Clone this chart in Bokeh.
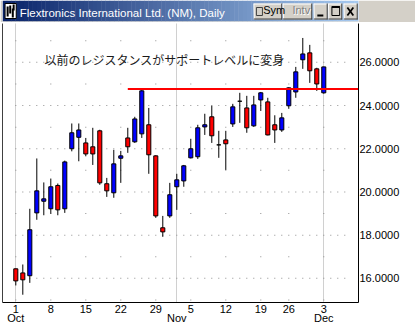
import datetime as dt
import numpy as np
from bokeh.plotting import figure
from bokeh.models import (Range1d, FixedTicker, LinearAxis, Label, Grid,
                          PrintfTickFormatter, ColumnDataSource)
from bokeh.layouts import column
from bokeh.embed import file_html
from bokeh.resources import INLINE
from bokeh.core.properties import value

# ---------------- data ----------------
dates = ["2001-10-01", "2001-10-02", "2001-10-03", "2001-10-04", "2001-10-05",
         "2001-10-08", "2001-10-09", "2001-10-10", "2001-10-11", "2001-10-12",
         "2001-10-15", "2001-10-16", "2001-10-17", "2001-10-18", "2001-10-19",
         "2001-10-22", "2001-10-23", "2001-10-24", "2001-10-25", "2001-10-26",
         "2001-10-29", "2001-10-30", "2001-10-31", "2001-11-01", "2001-11-02",
         "2001-11-05", "2001-11-06", "2001-11-07", "2001-11-08", "2001-11-09",
         "2001-11-12", "2001-11-13", "2001-11-14", "2001-11-15", "2001-11-16",
         "2001-11-19", "2001-11-20", "2001-11-21", "2001-11-23",
         "2001-11-26", "2001-11-27", "2001-11-28", "2001-11-29", "2001-11-30",
         "2001-12-03"]
opens = [16.44, 16.25, 16.12, 19.03, 19.57,
         19.22, 20.30, 19.22, 22.00, 22.53,
         22.27, 22.09, 22.83, 20.38, 19.96,
         21.56, 22.50, 22.32, 22.69, 23.11,
         21.67, 18.34, 18.89, 20.24, 20.51,
         21.58, 21.63, 23.01, 23.48, 22.18,
         22.41, 23.15, 24.20, 23.89, 23.06,
         24.26, 24.17, 23.11, 22.87,
         23.99, 24.63, 26.12, 26.44, 25.70,
         24.59]
highs = [16.45, 16.64, 19.22, 21.55, 20.44,
         20.62, 20.39, 21.45, 23.17, 23.17,
         22.50, 22.97, 22.88, 20.65, 21.95,
         21.90, 22.97, 23.48, 24.77, 23.89,
         21.70, 18.89, 20.42, 20.84, 21.25,
         22.46, 23.11, 23.62, 23.99, 22.83,
         22.83, 24.08, 24.59, 24.45, 24.45,
         24.63, 24.36, 23.55, 23.66,
         24.85, 25.79, 27.13, 26.81, 25.75,
         25.80]
lows = [15.67, 15.24, 15.79, 18.71, 18.92,
        18.99, 18.92, 19.03, 21.88, 21.42,
        21.65, 21.25, 20.33, 19.77, 19.73,
        20.42, 21.81, 22.27, 22.50, 20.84,
        18.80, 17.92, 18.80, 19.17, 20.24,
        21.55, 21.53, 22.64, 22.27, 21.58,
        21.02, 23.01, 23.20, 22.74, 23.01,
        23.75, 22.62, 22.27, 22.78,
        23.85, 24.36, 25.70, 25.05, 24.68,
        24.55]
closes = [15.88, 15.93, 18.25, 20.05, 19.68,
          20.24, 19.17, 21.39, 22.74, 22.87,
          21.76, 21.76, 20.42, 20.05, 21.30,
          21.67, 22.09, 23.38, 24.68, 21.72,
          18.89, 18.15, 19.87, 20.56, 21.21,
          22.00, 22.97, 23.11, 22.60, 22.18,
          22.23, 23.94, 24.20, 22.97, 24.03,
          24.59, 22.64, 22.87, 23.43,
          24.82, 25.56, 26.39, 25.61, 25.00,
          25.79]
price_ticks = [16, 18, 20, 22, 24, 26]
minor_levels = [15, 17, 19, 21, 23, 25, 27]
resistance_level = 24.77
resistance_start = "2001-10-23"
note_text = "以前のレジスタンスがサポートレベルに変身"
note_date_pos = 4.1
note_price_pos = 26.11
title_text = "Flextronics International Ltd. (NM), Daily"

# ---------------- derived ----------------
parsed = [dt.date.fromisoformat(d) for d in dates]
n = len(dates)
idx = np.arange(n)
week_idx, week_lbl, month_idx, month_lbl = [], [], [], []
for i, d in enumerate(parsed):
    if i == 0 or d.isocalendar()[1] != parsed[i - 1].isocalendar()[1]:
        week_idx.append(i)
        week_lbl.append(str(d.day))
    if i == 0 or d.month != parsed[i - 1].month:
        month_idx.append(i)
        month_lbl.append(d.strftime("%b"))

o = np.array(opens); c = np.array(closes)
colors = ["#0000ff" if cc > oo else ("#ff0000" if cc < oo else "#000000")
          for oo, cc in zip(o, c)]
src = ColumnDataSource(dict(x=idx, o=o, c=c, h=highs, l=lows,
                            top=np.maximum(o, c), bottom=np.minimum(o, c),
                            color=colors))

FONT = "Liberation Sans"

# ---------------- title bar ----------------
tb = figure(width=415, height=22, x_range=Range1d(0, 415), y_range=Range1d(22, 0),
            output_backend="svg", toolbar_location=None, min_border=0,
            x_axis_location=None, y_axis_location=None, outline_line_color=None,
            border_fill_color="#d4d0c8")
tb.grid.visible = False
steps = np.arange(0, 415, 5)
t = steps / 410.0
c0 = np.array([10, 36, 106]); c1 = np.array([166, 202, 240])
grad = ["#%02x%02x%02x" % tuple((c0 + (c1 - c0) * tt).astype(int)) for tt in t]
tb.quad(left=steps, right=steps + 5.5, top=0, bottom=21, fill_color=grad, line_color=None)
# icon
tb.quad(left=[3], right=[16], top=[3], bottom=[18], fill_color="white", line_color="black")
tb.segment(x0=[6, 9, 12, 13], y0=[6, 5, 8, 4], x1=[6, 9, 12, 13], y1=[16, 13, 17, 10],
           line_color="black", line_width=2)
tb.text(x=[20], y=[12.5], text=[title_text], text_color="white",
        text_font=value(FONT), text_font_size="11.5px", text_baseline="alphabetic")


def button(x0, x1):
    tb.quad(left=[x0], right=[x1], top=[3], bottom=[19], fill_color="#d4d0c8", line_color=None)
    tb.segment(x0=[x0, x0], y0=[3.5, 3], x1=[x1, x0 + 0.5], y1=[3.5, 19], line_color="white")
    tb.segment(x0=[x0, x1 - 0.5], y0=[18.5, 3], x1=[x1, x1 - 0.5], y1=[18.5, 19], line_color="#404040")


for (a, b) in [(293, 326), (327, 361), (363, 379), (380, 396), (398, 414)]:
    button(a, b)
# check boxes
tb.quad(left=[296, 330], right=[303, 337], top=[7], bottom=[15], fill_color="#d4d0c8", line_color="#404040")
tb.text(x=[304], y=[15.5], text=["Sym"], text_color="black",
        text_font=value(FONT), text_font_size="11px")
tb.text(x=[339], y=[16.5], text=["Intv"], text_color="white",
        text_font=value(FONT), text_font_size="11px")
tb.text(x=[338], y=[15.5], text=["Intv"], text_color="#808080",
        text_font=value(FONT), text_font_size="11px")
# window glyphs
tb.quad(left=[367], right=[374], top=[14], bottom=[16], fill_color="black", line_color=None)
tb.quad(left=[384], right=[393], top=[6], bottom=[15], fill_color=None, line_color="black")
tb.segment(x0=[384], y0=[6.5], x1=[393], y1=[6.5], line_color="black", line_width=2)
tb.segment(x0=[402, 402], y0=[7, 15], x1=[409, 409], y1=[15, 7], line_color="black", line_width=1.8)
tb.segment(x0=[0], y0=[21.5], x1=[415], y1=[21.5], line_color="#d4d0c8", line_width=1)

# ---------------- main chart ----------------
p = figure(frame_width=356, frame_height=279,
           x_range=Range1d(-1.9, 48.96), y_range=Range1d(14.88, 27.80),
           output_backend="svg", toolbar_location=None,
           min_border_left=2, min_border_right=57, min_border_top=1, min_border_bottom=20,
           x_axis_location=None, y_axis_location=None, outline_line_color=None,
           background_fill_color="white", border_fill_color="white")
p.grid.visible = False

p.add_layout(Grid(dimension=0, ticker=FixedTicker(ticks=month_idx),
                  grid_line_color="#a0a0a0", grid_line_dash="1 1"))

# dot grid
gx, gy = [], []
for lv in price_ticks:
    for i in range(0, 48):
        gx.append(i); gy.append(lv)
for lv in minor_levels:
    for i in week_idx:
        gx.append(i); gy.append(lv)
p.rect(x=gx, y=gy, width=1, height=1, width_units="screen", height_units="screen",
       fill_color="#909090", line_color=None)

# candles
p.segment(x0="x", y0="h", x1="x", y1="l", source=src, line_color="black", line_width=1)
p.vbar(x="x", width=0.58, top="top", bottom="bottom", source=src,
       fill_color="color", line_color="black", line_width=1)

# resistance line
res_i = dates.index(resistance_start)
p.segment(x0=[res_i], y0=[resistance_level], x1=[p.x_range.end], y1=[resistance_level],
          line_color="#ff0000", line_width=2)

p.add_layout(Label(x=note_date_pos, y=note_price_pos, text=note_text,
                   text_font="Noto Sans CJK JP", text_font_size="12px",
                   text_color="#1a1a1a", text_baseline="middle", text_align="left"))

# axes
ra = LinearAxis(ticker=FixedTicker(ticks=price_ticks), formatter=PrintfTickFormatter(format="%.4f"),
                major_tick_in=0, major_tick_out=0, minor_tick_in=0, minor_tick_out=0,
                major_label_standoff=1, axis_line_color="black",
                major_label_text_font=FONT, major_label_text_font_size="11px",
                major_label_text_color="black")
p.add_layout(ra, "right")

la = LinearAxis(ticker=FixedTicker(ticks=[]), major_tick_in=0, major_tick_out=0,
                minor_tick_in=0, minor_tick_out=0, axis_line_color="#404040",
                major_label_text_font_size="0px", major_label_standoff=0)
p.add_layout(la, "left")

ba = LinearAxis(ticker=FixedTicker(ticks=week_idx),
                major_label_overrides={i: s for i, s in zip(week_idx, week_lbl)},
                major_tick_in=0, major_tick_out=0, minor_tick_in=0, minor_tick_out=0,
                major_label_standoff=2, axis_line_color="black",
                major_label_text_font=FONT, major_label_text_font_size="11px",
                major_label_text_color="black")
p.add_layout(ba, "below")
ma = LinearAxis(ticker=FixedTicker(ticks=month_idx),
                major_label_overrides={i: s for i, s in zip(month_idx, month_lbl)},
                major_tick_in=0, major_tick_out=0, minor_tick_in=0, minor_tick_out=0,
                major_label_standoff=-4, axis_line_color=None,
                major_label_text_font=FONT, major_label_text_font_size="11px",
                major_label_text_color="black", major_label_text_align="left")
p.add_layout(ma, "below")

# bottom window border
bs = figure(width=415, height=6, output_backend="svg", toolbar_location=None, min_border=0,
            x_axis_location=None, y_axis_location=None, outline_line_color=None,
            border_fill_color="#d4d0c8", background_fill_color="#d4d0c8")
bs.grid.visible = False
bs.quad(left=[0], right=[1], top=[1], bottom=[0], fill_color="#d4d0c8", line_color=None)

layout = column(tb, p, bs, spacing=0)
open("out.html", "w").write(file_html(layout, INLINE))
